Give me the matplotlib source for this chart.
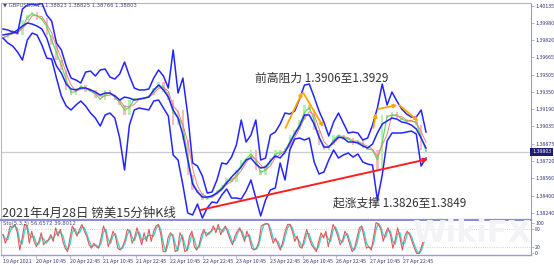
import numpy as np
import pandas as pd
import matplotlib
matplotlib.use("Agg")
import matplotlib.pyplot as plt
import matplotlib.transforms as mtransforms

plt.rcParams['font.family'] = ['Noto Sans CJK SC', 'DejaVu Sans']

# GBPUSD M15, 19 Apr - 27 Apr 2021, one sample every 7 bars
dates = ["19 Apr 2021", "20 Apr 10:45", "20 Apr 22:45", "21 Apr 10:45", "21 Apr 22:45",
         "22 Apr 10:45", "22 Apr 22:45", "23 Apr 10:45", "23 Apr 22:45", "26 Apr 10:45",
         "26 Apr 22:45", "27 Apr 10:45", "27 Apr 22:45"]
price_ticks = [1.40135, 1.39980, 1.39820, 1.39665, 1.39505, 1.39350, 1.39190, 1.39035,
               1.38875, 1.38720, 1.38560, 1.38400, 1.38240]

upper = [1.39925, 1.39916, 1.39897, 1.39888, 1.40108, 1.40144, 1.40153, 1.40144, 1.40163, 1.40053,
         1.39998, 1.39797, 1.39733, 1.39586, 1.39476, 1.39458, 1.39431, 1.39531, 1.39540, 1.39495,
         1.39550, 1.39559, 1.39485, 1.39467, 1.39513, 1.39623, 1.39495, 1.39385, 1.39367, 1.39367,
         1.39376, 1.39476, 1.39550, 1.39495, 1.39385, 1.39733, 1.39339, 1.39476, 1.39138, 1.38699,
         1.38671, 1.38580, 1.38424, 1.38433, 1.38543, 1.38699, 1.38689, 1.38753, 1.38863, 1.39092,
         1.38891, 1.38955, 1.39092, 1.38726, 1.38744, 1.38955, 1.38982, 1.39055, 1.39156, 1.39147,
         1.39174, 1.39284, 1.39412, 1.39421, 1.39302, 1.39174, 1.39074, 1.38946, 1.39074, 1.39156,
         1.39065, 1.38973, 1.38982, 1.38973, 1.38909, 1.38927, 1.39046, 1.39202, 1.39421, 1.39229,
         1.39348, 1.39266, 1.39193, 1.39147, 1.39119, 1.39119, 1.39184, 1.38982]
middle = [1.39870, 1.39879, 1.39888, 1.39916, 1.39952, 1.39980, 1.39970, 1.39952, 1.39925, 1.39842,
          1.39705, 1.39586, 1.39522, 1.39421, 1.39376, 1.39367, 1.39385, 1.39385, 1.39367, 1.39348,
          1.39321, 1.39339, 1.39339, 1.39312, 1.39275, 1.39302, 1.39293, 1.39275, 1.39284, 1.39293,
          1.39302, 1.39367, 1.39412, 1.39367, 1.39302, 1.39184, 1.39110, 1.38955, 1.38726, 1.38506,
          1.38433, 1.38387, 1.38387, 1.38397, 1.38424, 1.38461, 1.38516, 1.38570, 1.38616, 1.38662,
          1.38726, 1.38744, 1.38689, 1.38653, 1.38662, 1.38717, 1.38763, 1.38744, 1.38799, 1.38882,
          1.38964, 1.39037, 1.39138, 1.39138, 1.39055, 1.38936, 1.38845, 1.38845, 1.38891, 1.38936,
          1.38927, 1.38891, 1.38891, 1.38882, 1.38854, 1.38836, 1.38872, 1.38973, 1.39055, 1.39083,
          1.39110, 1.39101, 1.39074, 1.39065, 1.39046, 1.39010, 1.38927, 1.38836]
lower = [1.39842, 1.39797, 1.39769, 1.39714, 1.39641, 1.39824, 1.39888, 1.39870, 1.39778, 1.39659,
         1.39650, 1.39476, 1.39312, 1.39220, 1.39184, 1.39229, 1.39266, 1.39220, 1.39156, 1.39110,
         1.39037, 1.39138, 1.39156, 1.39110, 1.38927, 1.38635, 1.39046, 1.39184, 1.39202, 1.39193,
         1.39184, 1.39266, 1.39275, 1.39202, 1.39129, 1.38772, 1.38726, 1.38497, 1.38241, 1.38223,
         1.38323, 1.38195, 1.38287, 1.38342, 1.38333, 1.38406, 1.38461, 1.38378, 1.38378, 1.38369,
         1.38442, 1.38543, 1.38378, 1.38214, 1.38360, 1.38452, 1.38470, 1.38699, 1.38543, 1.38818,
         1.38918, 1.38927, 1.38909, 1.38927, 1.38708, 1.38598, 1.38616, 1.38726, 1.38818, 1.38744,
         1.38772, 1.38790, 1.38753, 1.38781, 1.38708, 1.38689, 1.38680, 1.38360, 1.38589, 1.38900,
         1.38973, 1.38973, 1.38973, 1.38982, 1.38991, 1.38964, 1.38671, 1.38744]
close = [1.39842, 1.39888, 1.39916, 1.39870, 1.40007, 1.40053, 1.40080, 1.40007, 1.40025, 1.39870,
         1.39778, 1.39641, 1.39550, 1.39367, 1.39321, 1.39385, 1.39412, 1.39348, 1.39367, 1.39293,
         1.39275, 1.39367, 1.39321, 1.39275, 1.39229, 1.39138, 1.39275, 1.39293, 1.39275, 1.39302,
         1.39321, 1.39385, 1.39440, 1.39348, 1.39275, 1.39046, 1.39184, 1.38909, 1.38589, 1.38452,
         1.38424, 1.38360, 1.38387, 1.38406, 1.38452, 1.38497, 1.38561, 1.38525, 1.38635, 1.38726,
         1.38744, 1.38818, 1.38635, 1.38589, 1.38680, 1.38744, 1.38818, 1.38772, 1.38836, 1.38955,
         1.39001, 1.39092, 1.39229, 1.39184, 1.39001, 1.38863, 1.38818, 1.38863, 1.38955, 1.38955,
         1.38909, 1.38927, 1.38863, 1.38909, 1.38836, 1.38818, 1.38818, 1.38635, 1.39138, 1.39110,
         1.39165, 1.39110, 1.39092, 1.39074, 1.39092, 1.39046, 1.38818, 1.38803]

stoch = [61, 33, 56, 89, 83, 94, 67, 11, 50, 94, 89, 33, 72, 39, 22, 39, 67, 28, 39, 44,
         61, 39, 83, 56, 78, 39, 17, 6, 50, 89, 72, 56, 78, 94, 72, 56, 28, 17, 33, 22,
         17, 50, 89, 67, 22, 44, 72, 56, 17, 11, 22, 44, 78, 72, 33, 50, 83, 56, 28, 67,
         39, 78, 39, 72, 89, 94, 61, 6, 6, 50, 67, 56, 6, 11, 67, 50, 6, 11, 56, 72,
         22, 11, 28, 61, 78, 56, 67,
         72, 89, 67, 94, 61, 78, 89, 67, 44, 28, 56, 72, 83, 61, 39, 72, 50, 17, 11, 17,
         39, 89, 94, 97, 94, 61, 33, 50, 28, 11, 39, 72, 94, 94, 72, 39, 56, 22, 17, 50,
         78, 50, 28, 17, 6, 39, 67, 50, 72, 22, 56, 94, 78, 56, 28, 44, 72, 56, 28, 6,
         17, 50, 83, 89, 50, 17, 22, 11, 56, 100, 94, 78, 39, 67, 83, 61, 17, 44, 83, 50,
         11, 56, 72, 61, 39, 17, 0, 0, 22, 50]

last_price = 1.38803
# hand-drawn annotations (bar index, price)
support_line = [(284.5, 1.38269), (612.0, 1.38735)]
resist_arrows = [[(406.7, 1.39019), (431.1, 1.39348)],
                 [(432.5, 1.39339), (461.3, 1.39028)],
                 [(533.1, 1.39019), (537.4, 1.39156)],
                 [(540.3, 1.39193), (567.6, 1.39229)],
                 [(570.5, 1.39229), (597.8, 1.39083)]]

W, H = 554, 265
step = 7            # bars between samples
tick_bars = 48      # bars between date labels
bars_per_px = 1.437

x = np.arange(len(close)) * step
xs = np.linspace(0, 606, len(stoch))

fig = plt.figure(figsize=(W / 100, H / 100), dpi=100)
ax = fig.add_axes([1 / W, 1 - 220 / H, 530 / W, 217 / H])
ax2 = fig.add_axes([1 / W, 1 - 255 / H, 530 / W, 34 / H], sharex=ax)
xlim = (-2 * bars_per_px, (531 - 2) * bars_per_px)
ax.set_xlim(*xlim)
ax.set_ylim(1.38177, 1.40163)

# candles
opens = [close[0]] + close[:-1]
for xi, o, c in zip(x, opens, close):
    col = '#b4efb4' if c >= o else '#f6bcbc'
    ax.bar(xi, max(abs(c - o), 0.00004), bottom=min(o, c), width=3.6, color=col,
           edgecolor='none', zorder=2)

s = pd.Series(close)
ax.plot(x, s.rolling(2, min_periods=1).mean(), color='#5fdc5f', lw=0.9, zorder=3)
ax.plot(x, s.rolling(3, min_periods=1).mean(), color='#ec8080', lw=0.7, zorder=3)

for band in (upper, middle, lower):
    ax.plot(x, band, color='#2424ff', lw=1.1, zorder=4)

ax.axhline(last_price, color='#c9ced6', lw=0.9, zorder=1)

(x0, y0), (x1, y1) = support_line
ax.annotate('', xy=(x1, y1), xytext=(x0, y0),
            arrowprops=dict(arrowstyle='-|>', color='#ff1e1e', lw=1.4,
                            mutation_scale=6, shrinkA=0, shrinkB=0), zorder=5)
for (a, b), (c, d) in resist_arrows:
    ax.annotate('', xy=(c, d), xytext=(a, b),
                arrowprops=dict(arrowstyle='-|>', color='#ffa500', lw=1.3,
                                mutation_scale=5, shrinkA=0, shrinkB=0), zorder=5)

ax.yaxis.tick_right()
ax.set_yticks(price_ticks)
ax.set_yticklabels([f"{p:.5f}" for p in price_ticks])
ax.tick_params(axis='y', labelsize=3.8, colors='#9a9acc', labelcolor='#33337a',
               length=2, width=0.5, pad=1)
ax.tick_params(axis='x', bottom=False, labelbottom=False)
trans = mtransforms.blended_transform_factory(ax.transAxes, ax.transData)
ax.text(1.002, last_price, f"{last_price:.5f}", transform=trans, ha='left', va='center',
        fontsize=3.8, color='white',
        bbox=dict(facecolor='#1c1c70', edgecolor='none', boxstyle='square,pad=0.3'))

for sp in ('top', 'left'):
    ax.spines[sp].set_color('#b8b8b8')
    ax.spines[sp].set_linewidth(0.8)
ax.spines['right'].set_color('#9a9acc')
ax.spines['right'].set_linewidth(0.8)
ax.spines['bottom'].set_color('#8c8cd8')
ax.spines['bottom'].set_linewidth(1.6)

# stochastic panel
ax2.set_ylim(-5, 105)
ax2.axhline(80, color='#c4c4c4', lw=0.6, ls=':')
ax2.axhline(20, color='#c4c4c4', lw=0.6, ls=':')
st = pd.Series(stoch)
ax2.plot(xs, st.rolling(2, min_periods=1).mean(), color='#3fd6d0', lw=1.0)
ax2.plot(xs, stoch, color='#e05a5a', lw=0.8)
ax2.yaxis.tick_right()
ax2.set_yticks([0, 20, 80, 100])
ax2.tick_params(axis='y', labelsize=3.8, colors='#9a9acc', labelcolor='#33337a',
                length=2, width=0.5, pad=1)
ax2.set_xticks(np.arange(len(dates)) * tick_bars)
ax2.set_xticklabels(dates, ha='left')
ax2.tick_params(axis='x', labelsize=3.8, colors='#9a9acc', labelcolor='#33337a',
                length=2, width=0.5, pad=1)
ax2.spines['top'].set_visible(False)
ax2.spines['left'].set_color('#b8b8b8')
ax2.spines['left'].set_linewidth(0.8)
ax2.spines['right'].set_color('#9a9acc')
ax2.spines['right'].set_linewidth(0.8)
ax2.spines['bottom'].set_color('#9a9ad8')
ax2.spines['bottom'].set_linewidth(1.0)

fig.text(472 / W, 1 - 234 / H, "WikiFX", fontsize=22, fontweight='bold', color='#f3f3f7',
         ha='center', va='center', family='DejaVu Sans', zorder=0)

fig.text(3 / W, 1 - 5 / H, "▼ GBPUSD,M15 1.38823 1.38825 1.38766 1.38803", fontsize=3.8,
         color='#4a4a7a', va='center', family='DejaVu Sans')
fig.text(3 / W, 1 - 224 / H, "Sto(5,3,3) 56.6572 39.8012", fontsize=3.8,
         color='#4a4a7a', va='center', family='DejaVu Sans')
fig.text(255 / W, 1 - 78 / H, "前高阻力 1.3906至1.3929", fontsize=8.5, color='#333333',
         va='center')
fig.text(333 / W, 1 - 203 / H, "起涨支撑 1.3826至1.3849", fontsize=8.5, color='#333333',
         va='center')
fig.text(2 / W, 1 - 213 / H, "2021年4月28日 镑美15分钟K线", fontsize=9, color='#333333',
         va='center')

fig.savefig("out.png", dpi=100)
